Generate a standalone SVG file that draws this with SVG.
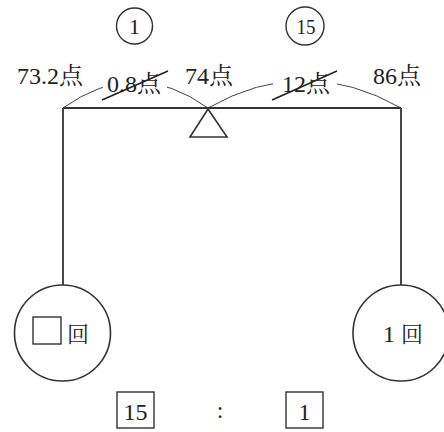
<svg xmlns="http://www.w3.org/2000/svg" width="444" height="432" viewBox="0 0 444 432">
<style>
.ln{stroke:#333;fill:none;}
.arc{stroke:#444;stroke-width:1;fill:none;}
.strike{stroke:#222;stroke-width:1.6;}
.circ{stroke:#333;stroke-width:1.6;fill:#fff;}
.box{stroke:#333;stroke-width:1.4;fill:none;}
.tx{font-family:"Liberation Serif","Noto Serif CJK JP",serif;fill:#222;}
</style>
<rect width="444" height="432" fill="#fff"/>
<g id="connectors">
<path class="arc" d="M63,108 Q135.5,56 208,108"/>
<path class="arc" d="M208,108 Q304.5,53 401,108"/>
<rect x="103" y="66" width="64" height="34" fill="#fff"/>
<rect x="273" y="66" width="64" height="34" fill="#fff"/>
<line class="ln" x1="63" y1="108" x2="401" y2="108" stroke-width="2"/>
<line class="ln" x1="63" y1="108" x2="63" y2="285" stroke-width="1.8"/>
<line class="ln" x1="401" y1="108" x2="401" y2="285" stroke-width="1.8"/>
</g>
<g id="fulcrum">
<polygon points="208,109 190,137 227,137" fill="#fff" stroke="#333" stroke-width="1.6"/>
</g>
<g id="circled1">
<circle cx="134.5" cy="26" r="18" fill="none" stroke="#333" stroke-width="1.4"/>
<text class="tx" font-family="Liberation Serif, Noto Serif CJK JP, serif" x="134.5" y="34" font-size="22" text-anchor="middle">1</text>
</g>
<g id="circled15">
<circle cx="305" cy="26" r="19" fill="none" stroke="#333" stroke-width="1.4"/>
<text class="tx" font-family="Liberation Serif, Noto Serif CJK JP, serif" x="306" y="34" font-size="22" text-anchor="middle" textLength="19" lengthAdjust="spacingAndGlyphs">15</text>
</g>
<g id="labels">
<text class="tx" font-family="Liberation Serif, Noto Serif CJK JP, serif" font-size="24" x="17" y="84">73.2点</text>
<text class="tx" font-family="Liberation Serif, Noto Serif CJK JP, serif" font-size="24" x="185" y="84">74点</text>
<text class="tx" font-family="Liberation Serif, Noto Serif CJK JP, serif" font-size="24" x="373" y="84">86点</text>
<text class="tx" font-family="Liberation Serif, Noto Serif CJK JP, serif" font-size="24" x="107" y="92">0.8点</text>
<text class="tx" font-family="Liberation Serif, Noto Serif CJK JP, serif" font-size="24" x="282" y="92">12点</text>
<line class="strike" x1="102" y1="100" x2="168" y2="71"/>
<line class="strike" x1="272" y1="100" x2="337" y2="71"/>
</g>
<g id="leftWeight">
<circle class="circ" cx="62.5" cy="333" r="48"/>
<rect class="box" x="33" y="317" width="28" height="27"/>
<text class="tx" font-family="Liberation Serif, Noto Serif CJK JP, serif" x="67" y="342" font-size="22">回</text>
</g>
<g id="rightWeight">
<circle class="circ" cx="401" cy="333" r="48"/>
<text class="tx" font-family="Liberation Serif, Noto Serif CJK JP, serif" x="383" y="342" font-size="24">1</text>
<text class="tx" font-family="Liberation Serif, Noto Serif CJK JP, serif" x="401" y="342" font-size="22">回</text>
</g>
<g id="ratio">
<rect class="box" x="117" y="392" width="37" height="36"/>
<text class="tx" font-family="Liberation Serif, Noto Serif CJK JP, serif" font-size="24" x="135.5" y="420" text-anchor="middle">15</text>
<text class="tx" font-family="Liberation Serif, Noto Serif CJK JP, serif" font-size="24" x="220" y="418" text-anchor="middle">:</text>
<rect class="box" x="286" y="392" width="37" height="36"/>
<text class="tx" font-family="Liberation Serif, Noto Serif CJK JP, serif" font-size="24" x="304.5" y="420" text-anchor="middle">1</text>
</g>
</svg>
